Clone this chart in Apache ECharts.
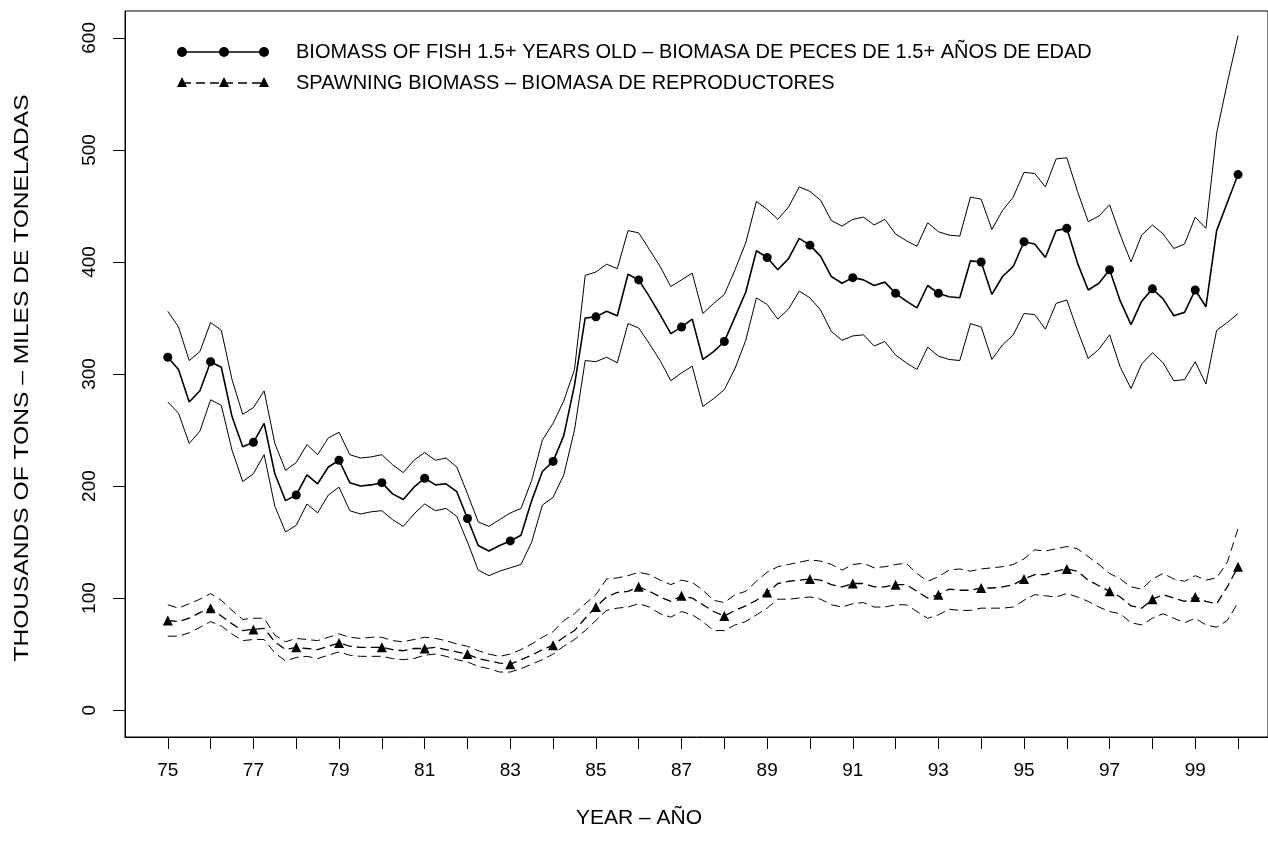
<!DOCTYPE html>
<html>
<head>
<meta charset="utf-8">
<script src="https://cdn.jsdelivr.net/npm/echarts@6/dist/echarts.min.js"></script>
<style>
  html, body { margin: 0; padding: 0; background: #ffffff; }
  #chart { width: 1268px; height: 852px; }
</style>
</head>
<body>
<div id="chart"></div>
<script>
// Quarterly estimates, 1975 (Q1) to 2000 (Q1); years written as two digits.
const firstYear = 75;
const quartersPerYear = 4;

// Biomass of fish 1.5+ years old (thousands of tons) and its bounds
const biomass = [
  315, 304, 275, 285, 311, 306, 262, 235, 239, 256, 211, 187, 192, 210, 202, 217,
  223, 203, 200, 201, 203, 193, 188, 199, 207, 201, 202, 195, 171, 147, 142, 147,
  151, 156, 187, 213, 222, 245, 290, 350, 351, 356, 352, 389, 384, 369, 353, 336,
  342, 349, 313, 320, 329, 351, 373, 410, 404, 393, 403, 421, 415, 405, 387, 381,
  386, 384, 379, 382, 372, 365, 359, 379, 372, 369, 368, 401, 400, 371, 387, 396,
  418, 416, 404, 428, 430, 399, 375, 381, 393, 365, 344, 365, 376, 367, 352, 355,
  375, 360, 428, 453, 478
];
const biomassUpper = [
  356, 342, 312, 320, 346, 339, 295, 264, 270, 285, 238, 214, 221, 237, 228, 243,
  248, 228, 225, 226, 228, 219, 212, 223, 230, 223, 225, 217, 193, 168, 164, 170,
  176, 180, 205, 241, 256, 276, 304, 388, 391, 398, 394, 428, 426, 411, 396, 378,
  384, 390, 354, 363, 371, 393, 417, 454, 447, 438, 449, 467, 463, 455, 437, 432,
  438, 440, 433, 438, 425, 419, 414, 435, 427, 424, 423, 458, 456, 429, 446, 458,
  480, 479, 467, 492, 493, 463, 436, 441, 451, 424, 400, 424, 433, 425, 412, 416,
  440, 430, 515, 560, 602
];
const biomassLower = [
  275, 265, 238, 249, 277, 272, 232, 204, 211, 228, 182, 159, 165, 184, 176, 192,
  199, 178, 175, 177, 178, 170, 164, 175, 184, 178, 180, 173, 150, 125, 120, 124,
  127, 130, 150, 183, 190, 210, 250, 312, 311, 315, 310, 345, 341, 327, 312, 294,
  301, 307, 271, 278, 286, 305, 330, 368, 362, 349, 358, 374, 368, 357, 338, 330,
  334, 335, 325, 329, 317, 310, 304, 324, 316, 313, 312, 345, 342, 313, 326, 335,
  354, 353, 340, 363, 366, 339, 314, 322, 335, 306, 287, 309, 319, 310, 294, 295,
  311, 291, 339, 346, 354
];

// Spawning biomass (thousands of tons) and its bounds
const spawning = [
   80,  79,  82,  87,  91,  84,  77,  71,  72,  73,  61,  54,  56,  55,  54,  57,
   60,  57,  56,  56,  56,  54,  53,  55,  55,  56,  54,  52,  50,  46,  44,  42,
   41,  45,  49,  54,  58,  65,  71,  82,  92, 101, 105, 106, 110, 106, 101,  97,
  102, 100,  94,  88,  84,  89,  93,  98, 105, 113, 115, 116, 117, 116, 112, 110,
  113, 113, 110, 110, 112, 112, 106, 100, 103, 108, 107, 107, 109, 109, 110, 112,
  117, 121, 121, 124, 126, 124, 116, 111, 106, 101,  93,  91,  99, 103, 100,  97,
  101,  97,  95, 110, 128
];
const spawningUpper = [
   94,  91,  95,  99, 104,  98,  89,  81,  82,  82,  67,  61,  64,  63,  62,  65,
   68,  65,  64,  65,  65,  62,  61,  63,  65,  64,  62,  59,  57,  53,  50,  48,
   50,  54,  59,  65,  70,  80,  86,  95, 103, 117, 118, 120, 123, 121, 116, 112,
  116, 114, 107,  98,  96, 103, 106, 115, 123, 128, 130, 132, 134, 133, 130, 125,
  130, 131, 127, 128, 130, 131, 122, 115, 119, 125, 126, 124, 126, 127, 128, 130,
  135, 143, 142, 144, 146, 144, 137, 130, 122, 117, 110, 108, 117, 122, 117, 115,
  120, 116, 118, 132, 162
];
const spawningLower = [
   66,  66,  69,  74,  79,  75,  68,  62,  63,  63,  51,  44,  47,  48,  46,  49,
   52,  49,  48,  48,  48,  46,  45,  46,  49,  50,  48,  45,  43,  39,  37,  34,
   34,  37,  41,  45,  50,  57,  63,  71,  80,  89,  91,  92,  95,  92,  86,  83,
   88,  85,  79,  71,  71,  76,  79,  85,  91,  99,  99, 100, 101,  99,  94,  92,
   95,  96,  92,  92,  94,  94,  88,  82,  85,  90,  89,  89,  91,  91,  91,  92,
   98, 103, 102, 101, 104, 101,  97,  92,  88,  86,  78,  76,  82,  86,  82,  78,
   82,  76,  74,  80,  96
];

// Axis ticks and labels
const yearTickValues = [75,76,77,78,79,80,81,82,83,84,85,86,87,88,89,90,91,92,93,94,95,96,97,98,99,100];
const yearLabelValues = [75,77,79,81,83,85,87,89,91,93,95,97,99];
const tonTickValues = [0, 100, 200, 300, 400, 500, 600];

const legendBiomass = 'BIOMASS OF FISH 1.5+ YEARS OLD \u2013 BIOMASA DE PECES DE 1.5+ A\u00d1OS DE EDAD';
const legendSpawning = 'SPAWNING BIOMASS \u2013 BIOMASA DE REPRODUCTORES';
const xTitle = 'YEAR \u2013 A\u00d1O';
const yTitle = 'THOUSANDS OF TONS \u2013 MILES DE TONELADAS';

const FONT = '"Liberation Sans", Arial, Helvetica, sans-serif';

function pairs(values) {
  return values.map((v, i) => [firstYear + i / quartersPerYear, v]);
}
function yearlyOnly(size) {
  return (value) => (Number.isInteger(value[0]) ? size : 0);
}

const chart = echarts.init(document.getElementById('chart'), null, { renderer: 'canvas' });

function bandSeries(values, dashed) {
  return {
    type: 'line',
    data: pairs(values),
    showSymbol: false,
    silent: true,
    animation: false,
    lineStyle: { color: '#000', width: 1, type: dashed ? [9, 5] : 'solid' },
    z: 2
  };
}

const option = {
  backgroundColor: '#ffffff',
  animation: false,
  grid: {
    left: 125, top: 11, width: 1143, height: 726,
    show: true, borderColor: '#000', borderWidth: 1, backgroundColor: 'transparent'
  },
  xAxis: {
    type: 'value',
    min: 74, max: 100.7,
    axisLine: { show: true, onZero: false, lineStyle: { color: '#000', width: 1 } },
    splitLine: { show: false },
    axisTick: {
      show: true, length: 12, inside: false,
      customValues: yearTickValues,
      lineStyle: { color: '#000', width: 1 }
    },
    axisLabel: {
      show: true, margin: 24, color: '#000', fontFamily: FONT, fontSize: 19,
      customValues: yearLabelValues,
      formatter: (v) => String(v)
    }
  },
  yAxis: {
    type: 'value',
    min: -24, max: 624,
    axisLine: { show: true, onZero: false, lineStyle: { color: '#000', width: 1 } },
    splitLine: { show: false },
    axisTick: {
      show: true, length: 12, inside: false,
      customValues: tonTickValues,
      lineStyle: { color: '#000', width: 1 }
    },
    axisLabel: {
      show: true, margin: 26, rotate: 90, color: '#000', fontFamily: FONT, fontSize: 19,
      customValues: tonTickValues,
      formatter: (v) => String(v)
    }
  },
  series: [
    bandSeries(biomassUpper, false),
    bandSeries(biomassLower, false),
    {
      type: 'line',
      data: pairs(biomass),
      symbol: 'circle',
      symbolSize: yearlyOnly(9),
      showSymbol: true,
      itemStyle: { color: '#000' },
      lineStyle: { color: '#000', width: 1.6 },
      z: 3
    },
    bandSeries(spawningUpper, true),
    bandSeries(spawningLower, true),
    {
      type: 'line',
      data: pairs(spawning),
      symbol: 'triangle',
      symbolSize: yearlyOnly(10),
      showSymbol: true,
      itemStyle: { color: '#000' },
      lineStyle: { color: '#000', width: 1.3, type: [9, 5] },
      z: 3
    }
  ],
  graphic: [
    // axis titles
    {
      type: 'text', x: 639, y: 818,
      style: { text: xTitle, font: '21px ' + FONT, fill: '#000', align: 'center', verticalAlign: 'middle' }
    },
    {
      type: 'text', x: 22, y: 378, rotation: Math.PI / 2, scaleX: 1.17,
      style: { text: yTitle, font: '21px ' + FONT, fill: '#000', align: 'center', verticalAlign: 'middle' }
    },
    // legend sample: biomass 1.5+
    { type: 'polyline', shape: { points: [[182, 52], [264, 52]] }, style: { stroke: '#000', lineWidth: 1.5 } },
    { type: 'circle', shape: { cx: 182, cy: 52, r: 5 }, style: { fill: '#000' } },
    { type: 'circle', shape: { cx: 224, cy: 52, r: 5 }, style: { fill: '#000' } },
    { type: 'circle', shape: { cx: 264, cy: 52, r: 5 }, style: { fill: '#000' } },
    {
      type: 'text', x: 296, y: 52,
      style: { text: legendBiomass, font: '20px ' + FONT, fill: '#000', verticalAlign: 'middle' }
    },
    // legend sample: spawning biomass
    { type: 'polyline', shape: { points: [[182, 83], [264, 83]] }, style: { stroke: '#000', lineWidth: 1.3, lineDash: [9, 5] } },
    { type: 'polygon', shape: { points: [[182, 77], [177, 87], [187, 87]] }, style: { fill: '#000' } },
    { type: 'polygon', shape: { points: [[224, 77], [219, 87], [229, 87]] }, style: { fill: '#000' } },
    { type: 'polygon', shape: { points: [[264, 77], [259, 87], [269, 87]] }, style: { fill: '#000' } },
    {
      type: 'text', x: 296, y: 83,
      style: { text: legendSpawning, font: '20px ' + FONT, fill: '#000', verticalAlign: 'middle' }
    }
  ]
};

chart.setOption(option);
</script>
</body>
</html>
